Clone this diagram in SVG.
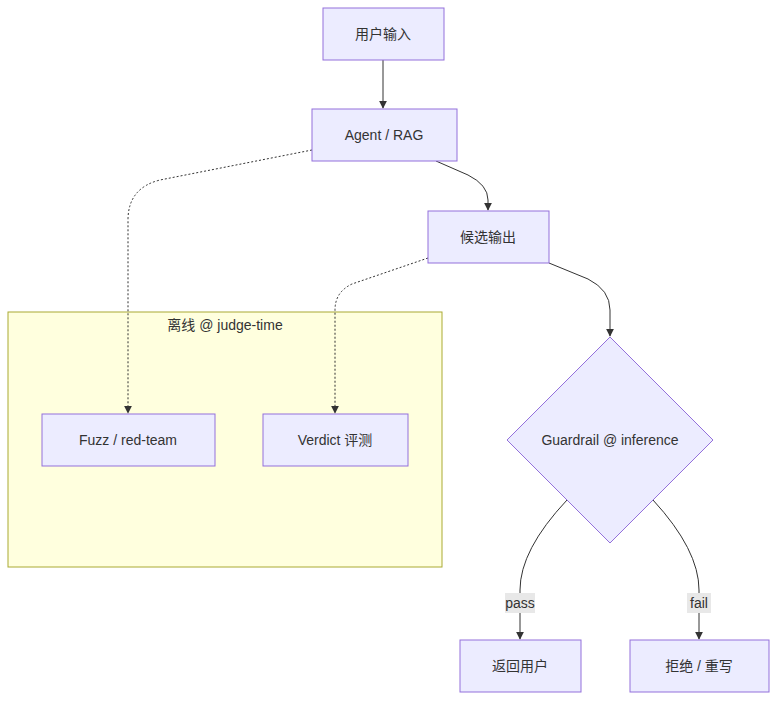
<svg xmlns="http://www.w3.org/2000/svg" width="784" height="708" viewBox="0 0 784 708">
<defs>
<marker id="ah" viewBox="0 0 10 10" refX="9" refY="5" markerWidth="8" markerHeight="8" orient="auto"><path d="M0,0 L10,5 L0,10 z" fill="#333"/></marker>
<style>
.n{fill:#ececff;stroke:#9370db;stroke-width:1}
.t{font-family:"Liberation Sans","Noto Sans CJK SC",sans-serif;font-size:14px;fill:#333;text-anchor:middle;dominant-baseline:central}
.e{fill:none;stroke:#333;stroke-width:1;marker-end:url(#ah)}
.d{stroke-dasharray:2,2}
.lb{fill:#e8e8e8}
</style>
</defs>
<rect width="784" height="708" fill="#fff"/>
<g id="cluster"><rect x="8" y="312" width="434" height="255" fill="#ffffde" stroke="#aaaa33"/><text class="t" x="225" y="325">离线 @ judge-time</text></g>
<g id="edges">
<path class="e" d="M383,60 L383,108"/>
<path class="e" d="M436,161 L468,175 Q488,185 488,200 L488,210"/>
<path class="e d" d="M312,150 L160,180 Q128,188 128,220 L128,413"/>
<path class="e" d="M549,263 L588,279 Q610,290 610,310 L610,336"/>
<path class="e d" d="M428,258 L352,284 Q335,292 335,310 L335,413"/>
<path class="e" d="M567,500 Q520,550 520,590 L520,639"/>
<path class="e" d="M653,500 Q699,550 699,590 L699,639"/>
<rect class="lb" x="505" y="593" width="30" height="20"/><text class="t" x="520" y="603">pass</text>
<rect class="lb" x="687" y="593" width="24" height="20"/><text class="t" x="699" y="603">fail</text>
</g>
<g id="n1"><rect class="n" x="323" y="8" width="121" height="52"/><text class="t" x="383" y="34">用户输入</text></g>
<g id="n2"><rect class="n" x="312" y="109" width="145" height="52"/><text class="t" x="384" y="135">Agent / RAG</text></g>
<g id="n3"><rect class="n" x="428" y="211" width="121" height="52"/><text class="t" x="488" y="237">候选输出</text></g>
<g id="n4"><rect class="n" x="42" y="414" width="173" height="52"/><text class="t" x="128" y="440">Fuzz / red-team</text></g>
<g id="n5"><rect class="n" x="263" y="414" width="145" height="52"/><text class="t" x="335" y="440">Verdict 评测</text></g>
<g id="n6"><polygon class="n" points="610,337 713,440 610,543 507,440"/><text class="t" x="610" y="440">Guardrail @ inference</text></g>
<g id="n7"><rect class="n" x="460" y="640" width="121" height="52"/><text class="t" x="520" y="666">返回用户</text></g>
<g id="n8"><rect class="n" x="630" y="640" width="139" height="52"/><text class="t" x="699" y="666">拒绝 / 重写</text></g>
</svg>
